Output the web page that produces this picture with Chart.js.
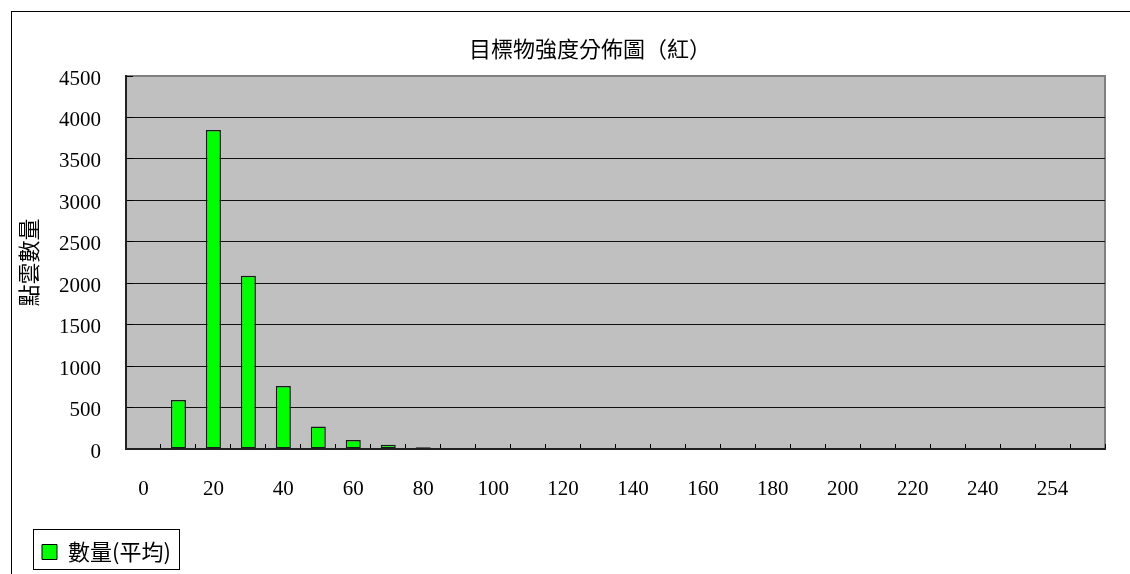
<!DOCTYPE html>
<html>
<head>
<meta charset="utf-8">
<script src="https://cdn.jsdelivr.net/npm/chart.js@4/dist/chart.umd.min.js"></script>
<style>
  html, body { margin: 0; padding: 0; background: #fff; overflow: hidden; }
  #wrap { width: 1130px; height: 574px; }
</style>
</head>
<body>
<div id="wrap"><canvas id="c" width="1130" height="574"></canvas></div>
<script>
// Intensity bins (red channel) and the averaged point count in each bin
const categories = ['0','10','20','30','40','50','60','70','80','90','100','110','120','130',
                    '140','150','160','170','180','190','200','210','220','230','240','250','254','255'];
const counts = [0, 590, 3850, 2090, 760, 270, 110, 50, 20, 0, 0, 0, 0, 0,
                0, 0, 0, 0, 0, 0, 0, 0, 0, 0, 0, 0, 0, 0];
// Category labels printed under the axis
const xTickLabels = ['0','20','40','60','80','100','120','140','160','180','200','220','240','254'];
// Value-axis ticks
const yTickValues = [0, 500, 1000, 1500, 2000, 2500, 3000, 3500, 4000, 4500];

const chartTitle = '目標物強度分佈圖（紅）';
const yAxisTitle = '點雲數量';
const seriesName = '數量(平均)';

const cjkFont = "'Noto Sans CJK TC', 'Noto Sans', sans-serif";
const numFont = "'Liberation Serif', 'DejaVu Serif', serif";

// Page frame, grey plot background and plot border, legend frame
const framePlugin = {
  id: 'frame',
  afterLayout(chart) {
    // centre the title over the chart object rather than the canvas padding box
    const t = chart.titleBlock;
    if (t) { t.left = 75; t.right = chart.chartArea.right; t.width = t.right - t.left; }
  },
  beforeDraw(chart) {
    const {ctx, chartArea: a} = chart;
    ctx.save();
    ctx.fillStyle = '#ffffff';
    ctx.fillRect(0, 0, chart.width, chart.height);
    ctx.strokeStyle = '#000000';
    ctx.lineWidth = 1;
    ctx.strokeRect(11.5, 11.5, 2000, 2000);
    ctx.fillStyle = '#c0c0c0';
    ctx.fillRect(a.left, a.top, a.right - a.left, a.bottom - a.top);
    ctx.strokeStyle = '#808080';
    ctx.lineWidth = 2;
    ctx.strokeRect(a.left, a.top, a.right - a.left, a.bottom - a.top);
    ctx.restore();
  },
  afterDraw(chart) {
    const lg = chart.legend;
    if (!lg || !lg.legendHitBoxes || !lg.legendHitBoxes.length) return;
    const hb = lg.legendHitBoxes[0];
    const {ctx} = chart;
    ctx.save();
    ctx.strokeStyle = '#000000';
    ctx.lineWidth = 1;
    const x0 = Math.round(hb.left - 9) + 0.5;
    const x1 = Math.round(hb.left + hb.width + 8) + 0.5;
    const y0 = Math.round(hb.top - 12) + 0.5;
    const y1 = Math.round(hb.top + hb.height + 6) + 0.5;
    ctx.strokeRect(x0, y0, x1 - x0, y1 - y0);
    ctx.restore();
  }
};

new Chart(document.getElementById('c'), {
  type: 'bar',
  data: {
    labels: categories,
    datasets: [{
      label: seriesName,
      data: counts,
      backgroundColor: '#00ff00',
      borderColor: '#1a1a1a',
      borderWidth: 1.5,
      borderSkipped: false,
      barPercentage: 0.43,
      categoryPercentage: 1.0
    }]
  },
  options: {
    responsive: false,
    devicePixelRatio: 1,
    animation: false,
    layout: { padding: { left: 10, right: 25, top: 0, bottom: 1 } },
    plugins: {
      tooltip: { enabled: false },
      title: {
        display: true,
        text: chartTitle,
        color: '#000',
        font: { family: cjkFont, size: 22, weight: 'normal' },
        padding: { top: 35, bottom: 14.6 }
      },
      legend: {
        display: true,
        position: 'bottom',
        align: 'start',
        labels: {
          color: '#000',
          font: { family: cjkFont, size: 22 },
          boxWidth: 15,
          boxHeight: 15,
          padding: 32,
          generateLabels(chart) {
            const items = Chart.defaults.plugins.legend.labels.generateLabels(chart);
            items.forEach(it => { it.lineWidth = 1; it.strokeStyle = '#000'; });
            return items;
          }
        }
      }
    },
    scales: {
      x: {
        afterFit(s) { s.height = 60; },
        border: { display: true, color: '#222', width: 2 },
        grid: {
          offset: true,
          drawOnChartArea: false,
          drawTicks: true,
          tickLength: -5,
          tickColor: '#000',
          color: '#000'
        },
        ticks: {
          autoSkip: false,
          maxRotation: 0,
          minRotation: 0,
          padding: 33,
          color: '#000',
          font: { family: numFont, size: 21 },
          callback(value, index) {
            const lab = categories[index];
            return xTickLabels.includes(lab) ? lab : '';
          }
        }
      },
      y: {
        min: 0,
        max: 4500,
        afterFit(s) { s.width = 116; },
        afterBuildTicks(s) { s.ticks = yTickValues.map(v => ({ value: v })); },
        border: { display: true, color: '#222', width: 2 },
        grid: {
          color: ctx => (ctx.tick && ctx.tick.value === 4500) ? '#808080' : '#111',
          lineWidth: 1,
          drawTicks: true,
          tickLength: -7,
          tickColor: '#000'
        },
        ticks: {
          padding: 32,
          labelOffset: 3,
          color: '#000',
          font: { family: numFont, size: 21 },
          callback: v => String(v)
        },
        title: {
          display: true,
          text: yAxisTitle,
          color: '#000',
          font: { family: cjkFont, size: 22 },
          padding: { top: 5, bottom: 0 }
        }
      }
    }
  },
  plugins: [framePlugin]
});
</script>
</body>
</html>
